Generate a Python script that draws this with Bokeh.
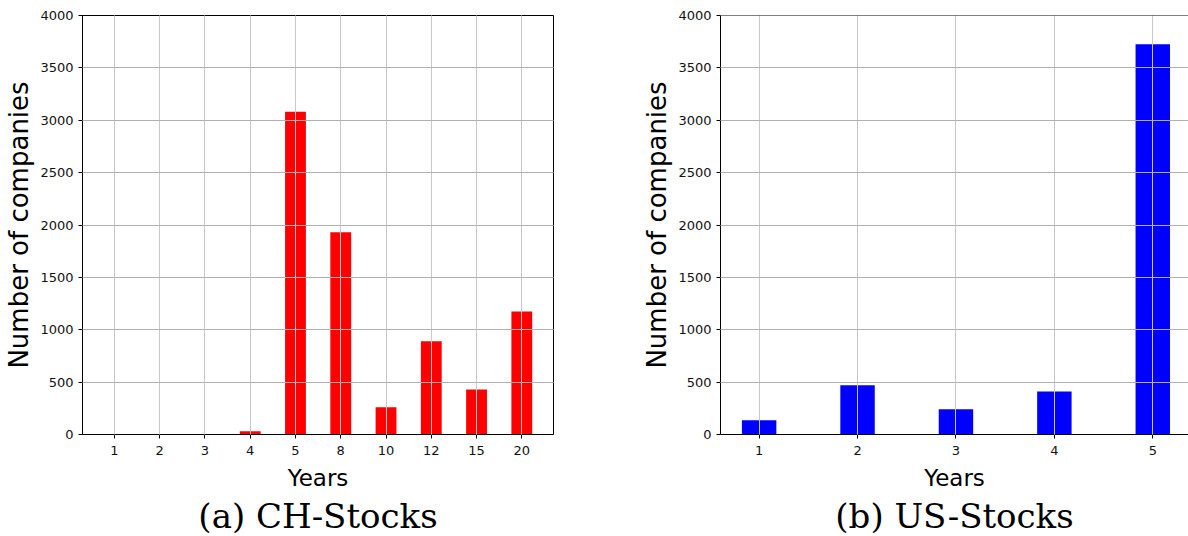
from bokeh.plotting import figure
from bokeh.layouts import row
from bokeh.models import Range1d, FixedTicker, Title, Span
from bokeh.embed import file_html
from bokeh.resources import INLINE

# ---- data ----
ch_years = ["1", "2", "3", "4", "5", "8", "10", "12", "15", "20"]
ch_counts = [0, 0, 0, 30, 3080, 1930, 260, 890, 430, 1175]

us_years = [1, 2, 3, 4, 5]
us_counts = [135, 470, 240, 410, 3725]

y_ticks = [0, 500, 1000, 1500, 2000, 2500, 3000, 3500, 4000]

x_label = "Years"
y_label = "Number of companies"
cap_ch = "(a) CH-Stocks"
cap_us = "(b) US-Stocks"

TICK_FONT = "DejaVu Sans"
LABEL_FONT = "DejaVu Sans"
CAP_FONT = "DejaVu Serif"


def style(p, caption):
    p.background_fill_color = "white"
    p.border_fill_color = "white"
    for ax in (p.xaxis[0], p.yaxis[0]):
        ax.axis_line_color = "black"
        ax.axis_line_width = 1
        ax.major_tick_line_color = "black"
        ax.major_tick_out = 4
        ax.major_tick_in = 0
        ax.minor_tick_out = 0
        ax.minor_tick_in = 0
        ax.major_label_text_font = TICK_FONT
        ax.major_label_text_font_size = "13px"
        ax.major_label_text_color = "#111111"
        ax.axis_label_text_font = LABEL_FONT
        ax.axis_label_text_font_style = "normal"
        ax.axis_label_text_color = "black"
    p.xaxis.axis_label = x_label
    p.yaxis.axis_label = y_label
    p.xaxis.axis_label_text_font_size = "23px"
    p.yaxis.axis_label_text_font_size = "26px"
    p.xaxis.major_label_standoff = 7
    p.yaxis.major_label_standoff = 5
    p.xaxis.axis_label_standoff = 7
    p.yaxis.axis_label_standoff = 3
    p.yaxis.ticker = FixedTicker(ticks=y_ticks)
    p.xgrid.grid_line_color = "#c8c8c8"
    p.ygrid.grid_line_color = "#b0b0b0"
    p.xgrid.grid_line_width = 1
    p.ygrid.grid_line_width = 1
    p.xgrid.level = "guide"
    p.ygrid.level = "guide"
    cap = Title(text=caption, align="center", text_font=CAP_FONT,
                text_font_size="34px", text_font_style="normal",
                text_color="black", standoff=1)
    p.add_layout(cap, "below")


# ---- left: CH ----
ch_pos = list(range(len(ch_years)))
p1 = figure(width=608, height=536, x_range=Range1d(-0.705, 9.7),
            y_range=Range1d(0, 4000), output_backend="svg",
            toolbar_location=None, min_border_top=15, min_border_bottom=102,
            min_border_left=82, min_border_right=55)
p1.vbar(x=ch_pos, top=ch_counts, width=0.46, bottom=0,
        fill_color="#ff0000", line_color=None)
p1.xaxis.ticker = FixedTicker(ticks=ch_pos)
p1.xaxis.major_label_overrides = {i: s for i, s in enumerate(ch_years)}
p1.outline_line_color = "black"
p1.outline_line_width = 1
p1.outline_line_alpha = 1
style(p1, cap_ch)

# ---- right: US ----
p2 = figure(width=580, height=536, x_range=Range1d(0.6075, 5.363),
            y_range=Range1d(0, 4000), output_backend="svg",
            toolbar_location=None, min_border_top=15, min_border_bottom=102,
            min_border_left=112, min_border_right=0)
p2.vbar(x=us_years, top=us_counts, width=0.35, bottom=0,
        fill_color="#0000ff", line_color=None)
p2.xaxis.ticker = FixedTicker(ticks=us_years)
p2.outline_line_color = None
p2.add_layout(Span(location=y_ticks[-1], dimension="width",
                   line_color="black", line_width=1))
style(p2, cap_us)

layout = row(p1, p2)
open("out.html", "w").write(file_html(layout, INLINE))
